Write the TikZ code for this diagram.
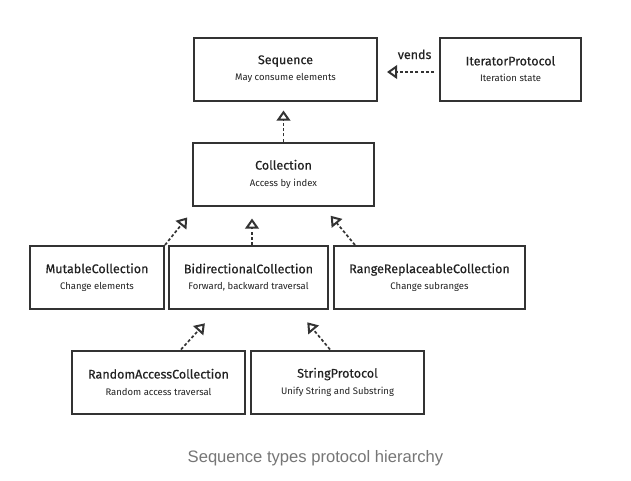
\documentclass[tikz,border=0pt]{standalone}
\usepackage{fontspec}
\setmainfont{Fira Sans}
\newfontfamily\titlefont{Fira Sans}[FakeBold=0.4]
\newfontfamily\captionfont{Liberation Sans}
\usetikzlibrary{arrows.meta}

\definecolor{boxgray}{HTML}{333333}
\definecolor{textgray}{HTML}{222222}
\definecolor{captiongray}{HTML}{767676}

\newcommand{\ptitle}[1]{{\titlefont\fontsize{12.5}{16.5}\selectfont #1}}
\newcommand{\pnote}[1]{{\fontsize{9.5}{16.5}\selectfont #1}}

\tikzset{
    proto/.style={draw=boxgray, line width=2pt, fill=white, text=textgray, align=center,
        inner sep=0pt, minimum height=63pt, font=\fontsize{9.5}{16.5}\selectfont},
    realize/.style={draw=boxgray, line width=1.7pt, dash pattern=on 3pt off 2.2pt,
        -{Triangle[open, length=10pt, width=13.5pt, line width=2pt]}},
}

\begin{document}
\begin{tikzpicture}[x=1pt, y=-1pt]
        \fill[white] (0, 0) rectangle (631, 480);
        \useasboundingbox (0, 0) rectangle (631, 480);

        \node[proto, minimum width=183pt] (seq) at (285.5, 69) {\ptitle{Sequence}\\\pnote{May consume elements}};
        \node[proto, minimum width=141pt] (iter) at (510.5, 69) {\ptitle{IteratorProtocol}\\\pnote{Iteration state}};
        \node[proto, minimum width=181pt] (coll) at (283.5, 174) {\ptitle{Collection}\\\pnote{Access by index}};

        \node[proto, minimum width=134pt] (mut) at (97, 277.5) {\ptitle{MutableCollection}\\\pnote{Change elements}};
        \node[proto, minimum width=159pt] (bid) at (248.5, 277.5) {\ptitle{BidirectionalCollection}\\\pnote{Forward, backward traversal}};
        \node[proto, minimum width=191pt] (rng) at (429.5, 277.5) {\ptitle{RangeReplaceableCollection}\\\pnote{Change subranges}};

        \node[proto, minimum width=173pt] (rnd) at (158.5, 382) {\ptitle{RandomAccessCollection}\\\pnote{Random access traversal}};
        \node[proto, minimum width=173pt] (str) at (337.5, 382) {\ptitle{StringProtocol}\\\pnote{Unify String and Substring}};

        \draw[realize, shorten <=5pt, shorten >=9pt] ([yshift=-3pt]iter.west) -- ([yshift=-3pt]seq.east)
            node[pos=0.4, above=12pt, inner sep=0pt, text=textgray, font=\titlefont\fontsize{12.5}{15}\selectfont] (vendslbl) {vends};
        \draw[realize, shorten >=9pt] (coll.north) -- (coll.north |- seq.south);

        \draw[realize, shorten >=14pt] (mut.north east) -- ([xshift=4pt]coll.south west);
        \draw[realize, shorten >=12pt] ([xshift=3.5pt]bid.north) -- ([xshift=3.5pt]bid.north |- coll.south);
        \draw[realize, shorten >=12pt] ([xshift=22pt]rng.north west) -- ([xshift=-52pt]coll.south east);

        \draw[realize, shorten >=18pt] ([xshift=110pt]rnd.north west) -- ([xshift=49pt]bid.south west);
        \draw[realize, shorten >=16pt] ([xshift=80pt]str.north west) -- ([xshift=-32pt]bid.south east);

        \node[anchor=base, inner sep=0pt, text=captiongray, font=\captionfont\fontsize{16.6}{18}\selectfont] (caption) at (315.5, 462) {Sequence types protocol hierarchy};
    \end{tikzpicture}
\end{document}
